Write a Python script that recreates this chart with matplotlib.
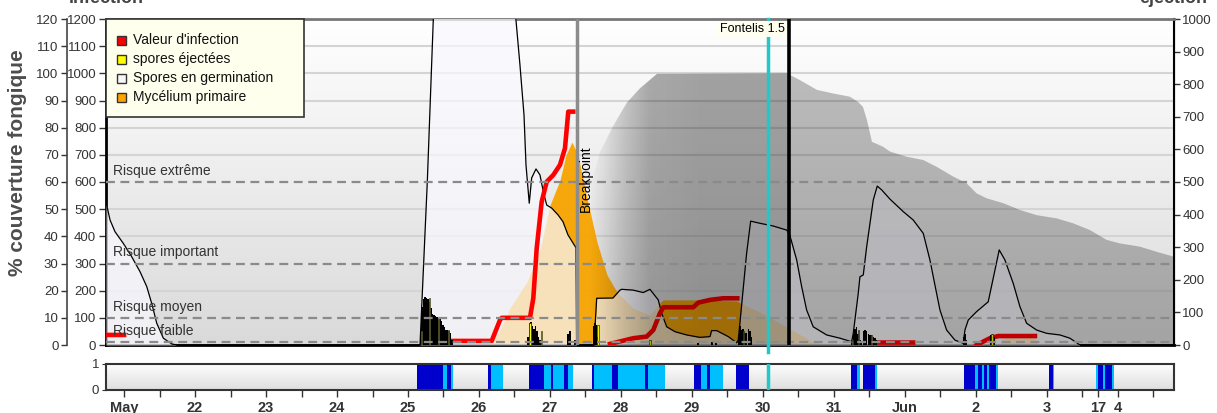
import numpy as np
import matplotlib
matplotlib.use("Agg")
import matplotlib.pyplot as plt
from matplotlib.patches import Polygon, Rectangle

plt.rcParams['font.family'] = ['Liberation Sans', 'DejaVu Sans']

W, H = 1217, 413
nan = np.nan

# days counted from 1 May (1 June = 32), values in % fungal cover
germ_day = [20.746, 20.756, 20.803, 20.873, 20.990, 21.108, 21.225, 21.320, 21.390, 21.461, 21.554, 21.672, 21.742,
            25.169, 25.272, 25.356, 25.451, 26.366, 26.521, 26.577, 26.634, 26.662, 26.708, 26.742, 26.803, 26.859,
            26.906, 26.954, 27.024, 27.113, 27.183, 27.254, 27.366, 27.376,
            27.620, 27.658, 27.887, 27.986, 28.010, 28.173, 28.314, 28.408, 28.525, 28.573, 28.644, 28.761, 28.925,
            29.113, 29.254, 29.277, 29.348, 29.511, 29.630, 29.652, 29.770, 29.827, 29.958, 30.145, 30.334, 30.370,
            30.404, 30.475, 30.545, 30.615, 30.708, 30.897, 31.085, 31.249, 31.272, 31.342, 31.366, 31.413, 31.461,
            31.554, 31.610, 31.672, 31.789, 31.976, 32.117, 32.258, 32.352, 32.446, 32.493, 32.587, 32.704, 32.821,
            32.845, 32.892, 33.010, 33.173, 33.268, 33.328, 33.408, 33.525, 33.620, 33.714, 33.855, 33.996, 34.183,
            34.324, 34.465, 35.790]
germ_val = [52, 51.5, 46.0, 41.7, 37.4, 32.5, 27.0, 21.5, 15.3, 8.0, 2.5, 0.4, 0,
            0, 60.1, 119.6, 150, 150, 119.6, 103.1, 84.7, 66.3, 52.2, 61.5, 64.8, 62.6,
            56.4, 51.5, 50.4, 47.9, 45.4, 40.5, 35.8, 0,
            0, 17.2, 17.3, 20.2, 20.5, 20.2, 19.3, 20.5, 16.6, 11.7, 6.7, 4.9, 3.7,
            2.8, 3.1, 5.3, 5.3, 3.1, 0.8, 1.8, 33.8, 45.6, 44.8, 43.8, 42.3, 41.1,
            38.0, 31.3, 21.5, 12.9, 6.7, 3.7, 2.5, 1.2, 4.3, 19.0, 25.1, 25.8, 36.2,
            53.4, 58.5, 57.1, 53.7, 49.1, 46.0, 41.1, 31.3, 19.0, 12.9, 5.5, 1.8, 0.6,
            5.5, 9.2, 12.3, 15.9, 27.6, 35.0, 31.3, 22.7, 14.1, 8.0, 5.5, 4.3, 3.7,
            2.5, 0, 0]

myc_day = [20.746, 26.155, 26.296, 26.437, 26.676, 26.859, 27.000, 27.141, 27.225, 27.310, 27.394, 27.521,
           27.662, 27.803, 27.944, 28.169, 28.408, 28.521, 28.592, 29.113, 29.634, 29.676, 29.958, 30.338,
           30.704, 30.944, 33.338, 33.380, 33.831, 33.873, 35.790]
myc_val = [0, 0, 5.5, 13.6, 23.2, 35.0, 51.5, 60.7, 69.9, 74.7, 69.9, 54.1,
           37.9, 25.8, 19.5, 13.6, 11.0, 14.7, 16.6, 16.6, 16.2, 15.5, 12.1, 6.6,
           1.1, 0, 0, 2.6, 2.6, 0, 0]

lesion_day = [27.380, 27.493, 27.606, 27.704, 27.887, 28.085, 28.268, 28.507, 30.338, 30.521, 30.761, 30.986,
              31.225, 31.338, 31.408, 31.465, 31.535, 31.690, 31.789, 32.024, 32.258, 32.446, 32.680, 32.869,
              33.010, 33.151, 33.385, 33.620, 33.855, 34.137, 34.370, 34.606, 34.841, 35.028, 35.310, 35.545, 35.790]
lesion_val = [0, 45, 62, 71, 80.5, 89.3, 94.5, 99.8, 100, 97.5, 93.9, 92.6,
              91.4, 89.5, 87.7, 82.8, 74.8, 73.0, 71.2, 69.3, 68.1, 65.6, 62.0, 59.5,
              55.8, 54.0, 52.2, 49.7, 47.8, 46.6, 44.8, 42.3, 38.7, 37.4, 36.2, 34.3, 32.5]

inf_day = [20.746, 21.0, nan,
           25.497, 26.179, 26.296, 26.320, 26.718, 26.765, 26.813, 26.883, 26.954, 27.047, 27.141, 27.211, 27.258, 27.328, nan,
           27.845, 28.173, 28.362, 28.455, 28.549, 28.596, 29.018, 29.089, 29.254, 29.441, 29.638, nan,
           31.554, 32.117, nan,
           33.010, 33.197, 33.314, 33.831]
inf_val = [3.7, 3.7, nan,
           1.5, 1.5, 9.2, 10.0, 10.0, 17.2, 35.6, 52.7, 60.1, 62.6, 66.3, 72.4, 85.9, 85.9, nan,
           0.4, 2.5, 3.1, 5.5, 11.7, 13.9, 13.9, 15.6, 16.6, 17.2, 17.2, nan,
           0.9, 0.9, nan,
           0, 2.5, 3.3, 3.3]

black_day = [25.179, 25.200, 25.221, 25.242, 25.262, 25.283, 25.304, 25.325, 25.346, 25.367, 25.387, 25.408,
             25.429, 25.450, 25.471, 25.492, 25.512, 25.533, 25.554, 25.575, 25.596, 25.617,
             26.690, 26.711, 26.732, 26.754, 26.775, 26.796, 26.817, 26.838, 26.859, 26.880,
             27.254, 27.282, 27.352, 27.613, 27.634, 27.655, 27.676,
             29.085, 29.282, 29.338,
             29.652, 29.676, 29.700, 29.722, 29.746, 29.770, 29.793, 29.817, 29.841,
             31.249, 31.272, 31.296, 31.320, 31.342, 31.366, 31.390, 31.413, 31.437, 31.461, 31.485, 31.507,
             31.530, 31.554, 31.577, 31.601,
             32.824, 32.845, 32.866, 33.211, 33.232, 33.254]
black_val = [5.3, 14, 17, 17.5, 17.2, 17, 16, 13.5, 11.5, 11, 10.5, 10.3,
             10, 9.5, 9, 7.5, 6.5, 5.5, 5.5, 5, 4.5, 2,
             3, 8, 8.5, 7, 6, 7, 5, 3, 2, 1.5,
             4, 5, 2, 7, 8, 7.5, 3,
             0.6, 1.0, 0.8,
             3, 7, 5.5, 6, 4.5, 4.5, 6, 5, 3,
             2, 4, 6, 6.5, 4, 2, 1, 5, 5.5, 5, 4, 3.5,
             3.5, 3, 2.5, 2,
             3, 4, 2, 3.5, 4, 3]

yellow_day = [25.191, 25.299, 25.427, 25.568, 26.718, 26.883, 27.676, 28.408, 29.722, 31.263, 31.342, 31.530, 33.225]
yellow_val = [5.3, 17.2, 9.8, 5.5, 8.0, 5.0, 7.4, 1.8, 5.0, 2.0, 5.5, 3.7, 4.0]

# leaf wetness strip: 2 = wet (dark blue), 1 = humid (light blue)
wet_start = [25.123, 25.497, 25.545, 25.601, 26.131, 26.169, 26.704, 26.920, 27.010, 27.037, 27.197, 27.258,
             27.587, 27.620, 27.869, 27.954, 28.338, 28.376, 29.032, 29.123, 29.207, 29.254, 29.620,
             31.235, 31.318, 31.413, 31.577, 32.835, 32.986, 33.032, 33.080, 33.113, 33.159, 33.187, 33.282,
             34.032, 34.080, 34.690, 34.723, 34.785, 34.817, 34.911]
wet_end = [25.497, 25.545, 25.601, 25.630, 26.169, 26.342, 26.920, 27.010, 27.037, 27.197, 27.258, 27.320,
           27.620, 27.869, 27.954, 28.338, 28.376, 28.620, 29.123, 29.207, 29.254, 29.441, 29.807,
           31.318, 31.366, 31.577, 31.610, 32.986, 33.032, 33.080, 33.113, 33.159, 33.187, 33.282, 33.314,
           34.080, 34.103, 34.723, 34.785, 34.817, 34.911, 34.944]
wet_level = [2, 1, 2, 1, 2, 1, 2, 1, 2, 1, 2, 1,
             2, 1, 2, 1, 2, 1, 2, 1, 2, 1, 2,
             2, 1, 2, 1, 2, 1, 2, 1, 2, 1, 2, 1,
             2, 1, 1, 2, 1, 2, 1]

risk_labels = ["Risque extrême", "Risque important", "Risque moyen", "Risque faible"]
risk_values = [60, 30, 10, 1]

breakpoint_day = 27.376
today_day = 30.066
spray_day = 30.37
spray_label = "Fontelis 1.5"

tick_days = [21, 22, 23, 24, 25, 26, 27, 28, 29, 30, 31, 32, 33, 34, 35]
tick_names = ["May", "22", "23", "24", "25", "26", "27", "28", "29", "30", "31", "Jun", "2", "3", "4"]
extra_tick_day = 34.72
extra_tick_name = "17"

legend_names = ["Valeur d'infection", "spores éjectées", "Spores en germination", "Mycélium primaire"]
legend_colors = ["#ff0000", "#ffff00", "#f6f6f6", "#ffa500"]

x0, x1 = 20.746, 35.79

fig = plt.figure(figsize=(W / 100, H / 100), dpi=100)
ax = fig.add_axes([106 / W, 1 - 345 / H, (1174 - 106) / W, (345 - 19) / H])
ax2 = fig.add_axes([106 / W, 1 - 390 / H, (1174 - 106) / W, (390 - 364) / H])

# background gradient
g = np.linspace(218, 255, 200) / 255
bg = np.dstack([g, g, g]).reshape(200, 1, 3)
ax.imshow(bg, extent=[x0, x1, 0, 120], aspect='auto', origin='lower', zorder=0)

for v in [20, 40, 50, 70, 80, 90, 100, 110]:
    ax.axhline(v, color='#d4d4d4', lw=1.5, zorder=1)

ax.fill_between(myc_day, myc_val, color='#f7a400', alpha=0.95, lw=0, zorder=2)
ax.fill_between(germ_day, germ_val, color='#f8f8ff', alpha=0.72, lw=0, zorder=3)
ax.plot(germ_day, germ_val, color='black', lw=0.9, zorder=4)
ax.plot(inf_day, inf_val, color='#ff0000', lw=3.3, zorder=5)
ax.bar(black_day, black_val, width=0.021, color='black', lw=0, zorder=5)
ax.bar(yellow_day, yellow_val, width=0.018, color='#ffff00', edgecolor='#333333', lw=0.5, zorder=6)

# grey lesion area with horizontal shading
verts = [(lesion_day[0], 0)] + list(zip(lesion_day, lesion_val)) + [(lesion_day[-1], 0)]
clip = Polygon(verts, closed=True, transform=ax.transData, facecolor='none')
cols = np.linspace(x0, x1, 2000)
alpha = np.interp(cols, [27.563, 27.775, 28.056, 28.408, 29.113, 30.366, 30.394],
                  [0, 0.08, 0.2, 0.32, 0.35, 0.35, 0.25])
rgba = np.zeros((1, len(cols), 4))
rgba[0, :, 3] = alpha
im = ax.imshow(rgba, extent=[x0, x1, 0, 120], aspect='auto', zorder=7)
im.set_clip_path(clip)

for lab, v in zip(risk_labels, risk_values):
    ax.axhline(v, color='#8a8a8a', lw=1.6, ls=(0, (4, 2.5)), zorder=8)
    ax.text(20.845, v + 2.6, lab, fontsize=10, color='#333333', va='baseline', zorder=12)

ax.axvline(breakpoint_day, color='#8c8c8c', lw=2.5, zorder=9)
ax.text(breakpoint_day + 0.035, 73.6, "Breakpoint", rotation=90, ha='left', va='top', fontsize=10, zorder=12)
ax.axvline(today_day, ymin=-0.022, color='#22c8c8', lw=2.5, zorder=9, clip_on=False)
ax2.axvline(today_day, color='#22c8c8', lw=2.5, zorder=5)
ax.axvline(spray_day, color='black', lw=2.6, zorder=9)
ax.text(spray_day - 0.06, 116.4, spray_label, ha='right', va='center', fontsize=9, zorder=12,
        bbox=dict(facecolor='#fffff0', edgecolor='none', pad=1.5))

ax.set_xlim(x0, x1)
ax.set_ylim(0, 120)
ax.set_xticks([])
ax.set_yticks(range(0, 121, 10))
ax.set_yticklabels([str(v * 10) for v in range(0, 121, 10)])
ax.tick_params(axis='y', direction='out', length=5, width=1, colors='#333333', labelsize=9.5, pad=2)
for s in ['left', 'bottom']:
    ax.spines[s].set_linewidth(2)
    ax.spines[s].set_color('black')
ax.spines['top'].set_color('#777777')
ax.spines['top'].set_linewidth(2)
ax.spines['right'].set_linewidth(1.5)

outer = ax.secondary_yaxis(-39 / 1068)
outer.set_yticks(range(0, 121, 10))
outer.tick_params(direction='out', length=4, width=1, colors='#333333', labelsize=9.5, pad=2)
outer.spines['left'].set_color('#444444')
outer.spines['left'].set_linewidth(1.2)

right = ax.secondary_yaxis('right', functions=(lambda v: v * 1000 / 120, lambda v: v * 120 / 1000))
right.set_yticks(range(0, 1001, 100))
right.tick_params(direction='out', length=4, width=1, colors='#333333', labelsize=9.5, pad=2)

# wetness strip
g2 = np.linspace(222, 255, 100) / 255
bg2 = np.dstack([g2, g2, g2]).reshape(100, 1, 3)
ax2.imshow(bg2, extent=[x0, x1, 0, 1], aspect='auto', origin='lower', zorder=0)
for s, e, lv in zip(wet_start, wet_end, wet_level):
    ax2.axvspan(s, e, color='#0000cd' if lv == 2 else '#00bfff', lw=0, zorder=2)
ax2.set_xlim(x0, x1)
ax2.set_ylim(0, 1)
ax2.set_yticks([0, 1])
ax2.tick_params(axis='y', length=3, colors='#333333', labelsize=9.5, pad=2)
half = list(np.arange(21, 35.6, 0.5)) + [extra_tick_day]
labels = []
for t in half:
    if t == extra_tick_day:
        labels.append(extra_tick_name)
    elif t in tick_days:
        labels.append(tick_names[tick_days.index(t)])
    else:
        labels.append("")
ax2.set_xticks(half)
ax2.set_xticklabels(labels, fontsize=10.5, fontweight='bold', color='#222222')
ax2.tick_params(axis='x', direction='out', length=5, width=1, colors='#333333', pad=3)
for s in ax2.spines.values():
    s.set_color('#333333')
    s.set_linewidth(1.5)


def fx(x):
    return x / W


def fy(y):
    return 1 - y / H


# legend box
fig.add_artist(Rectangle((fx(106), fy(117)), fx(304) - fx(106), (117 - 19) / H, transform=fig.transFigure,
                         facecolor='#ffffee', edgecolor='#333333', lw=1.2, zorder=10))
for i, (name, c) in enumerate(zip(legend_names, legend_colors)):
    yc = 40 + i * 19
    fig.add_artist(Rectangle((fx(117), fy(yc + 4.5)), 9 / W, 9 / H, transform=fig.transFigure,
                             facecolor=c, edgecolor='#333333', lw=1, zorder=11))
    fig.text(fx(133), fy(yc), name, fontsize=10, va='center', ha='left', color='#111111', zorder=12)

fig.text(fx(18), fy(163), "% couverture fongique", rotation=90, ha='center', va='center',
         fontsize=15, fontweight='bold', color='#4d4d4d')
# axis titles that sit mostly above the top edge, as in the original
fig.text(fx(106), fy(3), "infection", ha='center', va='baseline', fontsize=13, fontweight='bold', color='#444444')
fig.text(fx(1173), fy(3), "éjection", ha='center', va='baseline', fontsize=13, fontweight='bold', color='#444444')

fig.savefig("out.png", dpi=100)
